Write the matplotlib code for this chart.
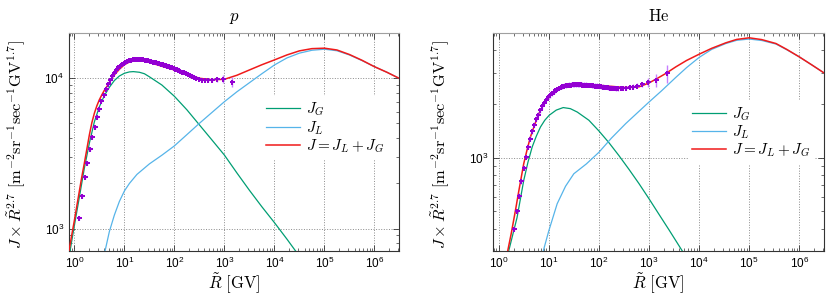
import numpy as np
import matplotlib
matplotlib.use('Agg')
from matplotlib import pyplot as plt
from matplotlib.ticker import FixedLocator, LogLocator, NullFormatter

plt.rcParams['mathtext.fontset'] = 'dejavusans'
plt.rcParams['font.family'] = ['Liberation Sans', 'DejaVu Sans']

# ---- proton panel -------------------------------------------------------
p_R_sum = [0.78, 0.89, 1.0, 1.12, 1.26, 1.41, 1.58, 1.78, 2.0, 2.24, 2.51, 2.82, 3.16, 3.55,
           3.98, 4.47, 5.01, 5.62, 6.31, 7.94, 10, 12.6, 15.8, 20, 25.1, 31.6, 56.2, 100,
           178, 316, 562, 1000, 1780, 3160, 5620, 1e4, 1.78e4, 3.16e4, 5.62e4, 1e5, 1.78e5,
           3.16e5, 5.62e5, 1e6, 1.78e6, 3.1e6]
p_J_sum = [710, 912, 1130, 1413, 1778, 2213, 2710, 3388, 4217, 5070, 5848, 6561, 7194, 7762,
           8318, 8810, 9397, 10000, 10520, 11480, 12300, 12820, 13090, 13180, 13030, 12740,
           12020, 11350, 10670, 10000, 9770, 9840, 10470, 11350, 12300, 13240, 14290, 15210,
           15740, 15850, 15420, 14390, 13180, 11940, 10960, 10000]

p_R_gal = [0.82, 1.0, 1.26, 1.58, 2.0, 2.51, 3.16, 3.98, 5.01, 6.31, 7.94, 10, 12.6, 15.1,
           20, 25.1, 31.6, 56.2, 100, 178, 316, 562, 1000, 1780, 3160, 5620, 1e4, 1.78e4,
           2.8e4]
p_J_gal = [710, 1047, 1622, 2512, 3715, 5129, 6457, 7674, 8710, 9661, 10350, 10790, 11020,
           11070, 10960, 10720, 10230, 9016, 7586, 6166, 4898, 3890, 3083, 2344, 1799, 1396,
           1096, 851, 692]

p_R_loc = [4.11, 5.01, 6.31, 7.94, 10, 12.6, 17.8, 31.6, 56.2, 100, 178, 316, 562, 1000,
           1780, 3160, 5620, 1e4, 1.78e4, 3.16e4, 5.62e4, 1e5, 1.78e5, 3.16e5, 5.62e5, 1e6,
           1.78e6, 3.1e6]
p_J_loc = [710, 955, 1230, 1514, 1778, 1995, 2291, 2692, 3076, 3548, 4217, 5012, 5916, 6982,
           8128, 9333, 10720, 12250, 13650, 14690, 15350, 15600, 15240, 14290, 13120, 11940,
           10960, 10000]

p_R_data = [1.24, 1.42, 1.61, 1.81, 2.03, 2.27, 2.53, 2.82, 3.13, 3.46, 3.83, 4.22, 4.65,
            5.12, 5.63, 6.18, 6.77, 7.42, 8.11, 8.86, 9.67, 10.5, 11.5, 12.5, 13.5, 14.7,
            15.9, 17.3, 18.7, 20.3, 21.9, 23.7, 25.7, 27.7, 29.9, 32.3, 34.8, 37.5, 40.4,
            43.5, 46.8, 50.3, 54.1, 58.2, 62.5, 67.2, 72.3, 77.6, 83.4, 89.7, 96.4, 104,
            112, 120, 130, 141, 153, 167, 183, 201, 222, 245, 274, 309, 353, 409, 480,
            578, 720, 946, 1400]
p_J_data = [1180, 1650, 2190, 2750, 3380, 4040, 4750, 5500, 6210, 7030, 7740, 8450, 9160,
            9750, 10360, 10900, 11400, 11800, 12150, 12450, 12700, 12900, 13050, 13200,
            13300, 13350, 13400, 13420, 13420, 13400, 13380, 13330, 13280, 13220, 13150,
            13080, 13000, 12920, 12840, 12760, 12680, 12590, 12500, 12410, 12320, 12220,
            12120, 12020, 11910, 11800, 11690, 11570, 11450, 11330, 11200, 11070, 10940,
            10800, 10650, 10500, 10340, 10180, 10020, 9870, 9800, 9780, 9780, 9800, 9830,
            9880, 9500]
p_rel_err = [0.03] * 62 + [0.02, 0.02, 0.025, 0.025, 0.03, 0.03, 0.04, 0.06, 0.08]

# ---- helium panel -------------------------------------------------------
he_R_sum = [1.51, 1.78, 2.16, 2.51, 3.16, 3.69, 4.3, 5.01, 6.31, 7.94, 10, 12.6, 17.1, 25.1,
            37, 56.2, 100, 178, 342, 631, 1000, 1470, 2160, 3420, 5620, 1e4, 1.78e4, 3.42e4,
            5.62e4, 1e5, 1.78e5, 3.42e5, 5.62e5, 1e6, 1.78e6, 3.24e6]
he_J_sum = [299, 376, 506, 646, 925, 1109, 1306, 1479, 1766, 1995, 2188, 2328, 2472, 2547,
            2582, 2576, 2547, 2512, 2472, 2495, 2624, 2786, 2965, 3228, 3508, 3802, 4102,
            4406, 4603, 4699, 4592, 4365, 4046, 3673, 3311, 2965]

he_R_gal = [1.58, 2.33, 3.16, 3.84, 4.66, 5.62, 6.82, 8.32, 10.2, 14.1, 19.4, 26.9, 37, 63.1,
            100, 158, 251, 398, 631, 1000, 1580, 2510, 4660]
he_J_gal = [299, 463, 745, 944, 1148, 1318, 1486, 1622, 1730, 1849, 1910, 1884, 1803, 1622,
            1413, 1216, 1028, 861, 716, 589, 482, 394, 299]

he_R_loc = [7.73, 10, 14.7, 21.6, 31.6, 56.2, 100, 178, 342, 631, 1000, 1780, 3420, 5620,
            1e4, 1.78e4, 3.42e4, 5.62e4, 1e5, 1.78e5, 3.42e5, 5.62e5, 1e6, 1.78e6, 3.24e6]
he_J_loc = [299, 389, 552, 692, 813, 923, 1072, 1288, 1552, 1820, 2051, 2371, 2818, 3199,
            3648, 4046, 4365, 4550, 4624, 4539, 4335, 4027, 3673, 3311, 2965]

he_R_data = [2.03, 2.27, 2.53, 2.82, 3.13, 3.46, 3.83, 4.22, 4.65, 5.12, 5.63, 6.18, 6.77,
             7.42, 8.11, 8.86, 9.67, 10.5, 11.5, 12.5, 13.5, 14.7, 15.9, 17.3, 18.7, 20.3,
             21.9, 23.7, 25.7, 27.7, 29.9, 32.3, 34.8, 37.5, 40.4, 43.5, 46.8, 50.3, 54.1,
             58.2, 62.5, 67.2, 72.3, 77.6, 83.4, 89.7, 96.4, 104, 112, 120, 130, 141, 153,
             167, 183, 201, 222, 245, 274, 309, 353, 409, 480, 578, 720, 946, 1400, 2260]
he_J_data = [399, 504, 613, 739, 875, 1008, 1148, 1280, 1406, 1532, 1656, 1745, 1845, 1942,
             2030, 2110, 2180, 2240, 2300, 2350, 2390, 2430, 2460, 2490, 2510, 2530, 2545,
             2555, 2565, 2570, 2575, 2578, 2580, 2580, 2578, 2575, 2572, 2568, 2564, 2560,
             2556, 2552, 2548, 2543, 2538, 2532, 2526, 2520, 2512, 2504, 2496, 2488, 2480,
             2472, 2465, 2458, 2452, 2450, 2450, 2455, 2465, 2480, 2500, 2530, 2580, 2650,
             2720, 2970]
he_rel_err = [0.03] * 58 + [0.02, 0.02, 0.025, 0.025, 0.03, 0.03, 0.035, 0.06, 0.08, 0.12]

x_major = [1, 10, 100, 1e3, 1e4, 1e5, 1e6]

c_gal = '#009e73'
c_loc = '#56b4e9'
c_sum = '#f01a1a'
c_dat = '#9400d3'
c_err = '#c77dff'

ylabel = r'$J\times\tilde{R}^{2.7}\ [\mathrm{m}^{-2}\mathrm{sr}^{-1}\mathrm{sec}^{-1}\mathrm{GV}^{1.7}]$'
xlabel = r'$\tilde{R}\ [\mathrm{GV}]$'


def panel(ax, title, ylim, data, gal, loc, tot, leg_anchor):
    R, J, rel = data
    J = np.array(J)
    err = J * np.array(rel)
    ax.plot(gal[0], gal[1], color=c_gal, lw=0.9, label=r'$J_G$', zorder=3)
    ax.plot(loc[0], loc[1], color=c_loc, lw=0.9, label=r'$J_L$', zorder=3)
    ax.plot(tot[0], tot[1], color=c_sum, lw=1.1, label=r'$J = J_L + J_G$', zorder=4)
    ax.errorbar(R, J, yerr=err, fmt='P', ms=3.6, color=c_dat, ecolor=c_err,
                elinewidth=1.0, capsize=0, mew=0, zorder=5)
    ax.set_xscale('log')
    ax.set_yscale('log')
    ax.set_xlim(0.78, 3.1e6)
    ax.set_ylim(*ylim)
    ax.xaxis.set_major_locator(FixedLocator(x_major))
    ax.xaxis.set_minor_locator(LogLocator(base=10, subs=np.arange(2, 10), numticks=12))
    ax.yaxis.set_minor_formatter(NullFormatter())
    ax.tick_params(which='both', direction='in', top=True, right=True, labelsize=8.5,
                   color='#333333')
    ax.tick_params(which='major', length=4.5, width=0.6)
    ax.tick_params(which='minor', length=2.5, width=0.5)
    ax.grid(True, which='major', ls=':', lw=0.7, color='#8a8a8a')
    for s in ax.spines.values():
        s.set_linewidth(0.8)
        s.set_color('#333333')
    ax.spines['top'].set_color('#a0a0a0')
    ax.set_title(title, fontsize=12, pad=9, math_fontfamily='cm')
    ax.set_xlabel(xlabel, fontsize=12, labelpad=0, math_fontfamily='cm')
    ax.set_ylabel(ylabel, fontsize=11.8, math_fontfamily='cm')
    ax.yaxis.set_label_coords(-0.125, 0.49)
    leg = ax.legend(loc='center left', bbox_to_anchor=leg_anchor, frameon=True,
                    fontsize=11, handlelength=2.2, handletextpad=0.4, labelspacing=0.05,
                    borderpad=0.3, fancybox=False, edgecolor='none', framealpha=1)
    for t in leg.get_texts():
        t.set_math_fontfamily('cm')


fig = plt.figure(figsize=(8.3, 2.96), dpi=100)
ax1 = fig.add_axes([0.0831, 0.152, 0.3976, 0.7365])
ax2 = fig.add_axes([0.5943, 0.152, 0.3984, 0.7365])

panel(ax1, r'$p$', (709, 2.0e4), (p_R_data, p_J_data, p_rel_err),
      (p_R_gal, p_J_gal), (p_R_loc, p_J_loc), (p_R_sum, p_J_sum), (0.56, 0.565))
panel(ax2, r'$\mathrm{He}$', (300, 5000), (he_R_data, he_J_data, he_rel_err),
      (he_R_gal, he_J_gal), (he_R_loc, he_J_loc), (he_R_sum, he_J_sum), (0.565, 0.545))

fig.savefig('out.png', dpi=100)
